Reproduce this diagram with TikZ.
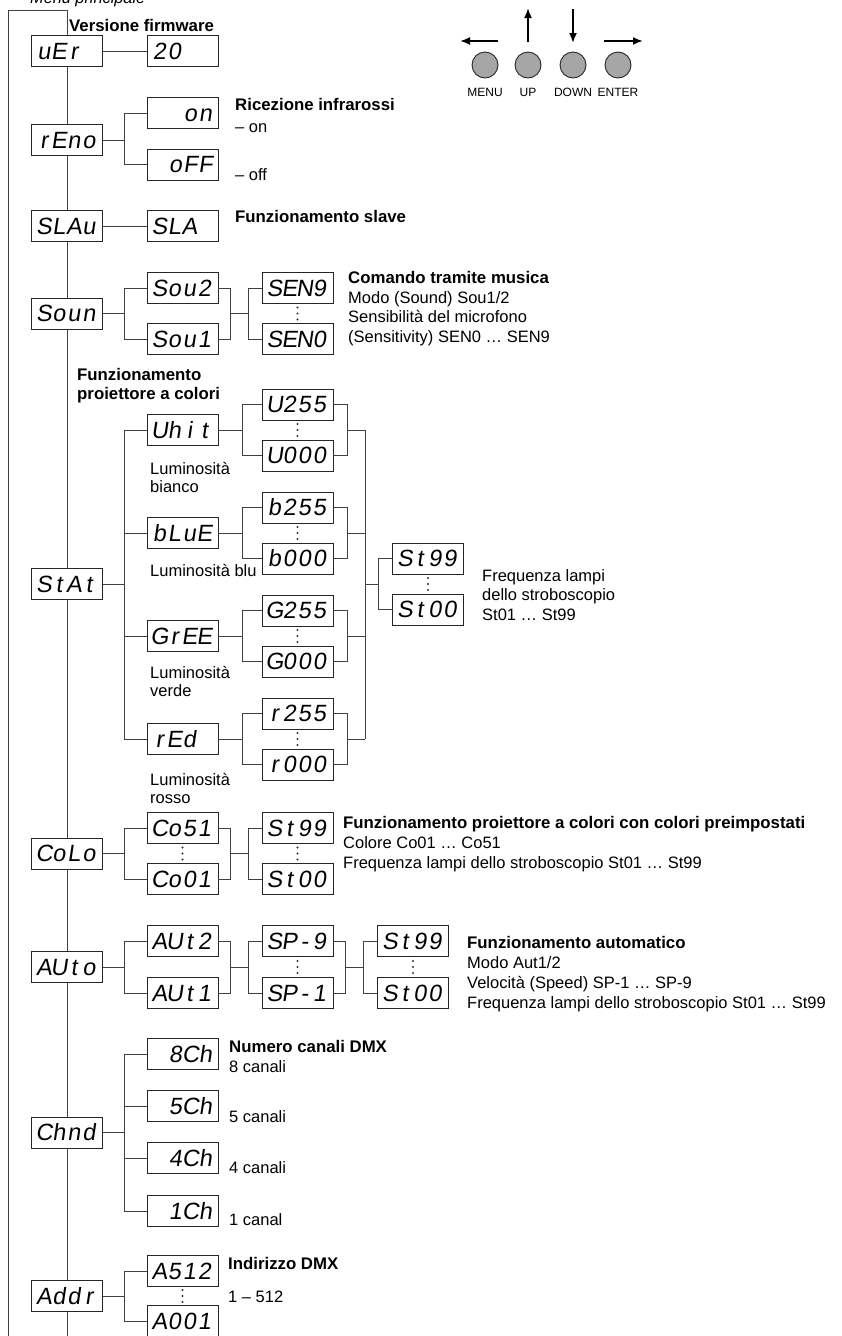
\documentclass[tikz,border=0pt]{standalone}
\usepackage{fontspec}
\setmainfont{Liberation Sans}
\newfontfamily\segfont{Liberation Sans}[FakeSlant=0.15]
\usetikzlibrary{arrows.meta}
\makeatletter
\newcommand\segtext[1]{\@tfor\seg@c:=#1\do{\makebox[15pt][c]{\seg@c}}}
\makeatother
\newcommand\vdts[2]{\foreach \dd in {-6,0,6}{\fill[black!80] (#1,{#2+\dd}) circle (1.1pt);}}
\begin{document}
\begin{tikzpicture}[x=1pt,y=-1pt,
 disp/.style={draw=black!85, line width=0.9pt, minimum width=71pt, minimum height=31pt, inner sep=0pt,
   font=\segfont\fontsize{23.5}{23.5}\selectfont, text width=61pt, align=left, text height=16.8pt, text depth=0pt},
 dispr/.style={disp, align=right},
 conn/.style={draw=black!75, line width=0.9pt},
 lbl/.style={anchor=base west, inner sep=0pt, font=\fontsize{16.5}{19.5}\selectfont},
 ttl/.style={anchor=base west, inner sep=0pt, font=\bfseries\fontsize{16.8}{19.5}\selectfont},
 btn/.style={circle, draw=black!85, fill=black!35, line width=0.9pt, minimum size=26pt, inner sep=0pt},
 btnlbl/.style={inner sep=0pt, font=\fontsize{12}{12}\selectfont},
 arr/.style={line width=1.8pt, -{Latex[length=10pt,width=8pt]}}
]
\useasboundingbox (0,0) rectangle (842,1336);

% ---------- main column ----------
\node[disp] (uEr)  at (67,51)    {\segtext{uEr}};
\node[disp] (rEno) at (67,140)   {\segtext{rEno}};
\node[disp] (SLAu) at (67,226)   {\segtext{SLAu}};
\node[disp] (Soun) at (67,313.5) {\segtext{Soun}};
\node[disp] (StAt) at (67,584)   {\segtext{StAt}};
\node[disp] (CoLo) at (67,853.5) {\segtext{CoLo}};
\node[disp] (AUto) at (67,967)   {\segtext{AUto}};
\node[disp] (Chnd) at (67,1132.5){\segtext{Chnd}};
\node[disp] (Addr) at (67,1296)  {\segtext{Addr}};

% ---------- second level ----------
\node[disp]  (v20)  at (182.5,51)    {\segtext{20}};
\node[dispr] (on)   at (182.5,113)   {\segtext{on}};
\node[dispr] (oFF)  at (182.5,164.5) {\segtext{oFF}};
\node[disp]  (SLA)  at (182.5,226)   {\segtext{SLA}};
\node[disp]  (Sou2) at (182.5,288)   {\segtext{Sou2}};
\node[disp]  (Sou1) at (182.5,339)   {\segtext{Sou1}};
\node[disp]  (Whit) at (182.5,430)   {\segtext{Uhit}};
\node[disp]  (bLuE) at (182.5,533)   {\segtext{bLuE}};
\node[disp]  (GrEE) at (182.5,636)   {\segtext{GrEE}};
\node[disp]  (rEd)  at (182.5,739)   {\segtext{rEd}};
\node[disp]  (Co51) at (182.5,828)   {\segtext{Co51}};
\node[disp]  (Co01) at (182.5,879)   {\segtext{Co01}};
\node[disp]  (AUt2) at (182.5,941)   {\segtext{AUt2}};
\node[disp]  (AUt1) at (182.5,993)   {\segtext{AUt1}};
\node[dispr] (c8)   at (182.5,1054)  {\segtext{8Ch}};
\node[dispr] (c5)   at (182.5,1106)  {\segtext{5Ch}};
\node[dispr] (c4)   at (182.5,1158)  {\segtext{4Ch}};
\node[dispr] (c1)   at (182.5,1211)  {\segtext{1Ch}};
\node[disp]  (A512) at (182.5,1271)  {\segtext{A512}};
\node[disp]  (A001) at (182.5,1321)  {\segtext{A001}};

% ---------- third level ----------
\node[disp] (SEN9) at (297.5,288)   {\segtext{SEN9}};
\node[disp] (SEN0) at (297.5,339)   {\segtext{SEN0}};
\node[disp] (W255) at (297.5,404.5) {\segtext{U255}};
\node[disp] (W000) at (297.5,455.5) {\segtext{U000}};
\node[disp] (b255) at (297.5,507.5) {\segtext{b255}};
\node[disp] (b000) at (297.5,558.5) {\segtext{b000}};
\node[disp] (G255) at (297.5,610.5) {\segtext{G255}};
\node[disp] (G000) at (297.5,661.5) {\segtext{G000}};
\node[disp] (r255) at (297.5,713.5) {\segtext{r255}};
\node[disp] (r000) at (297.5,764.5) {\segtext{r000}};
\node[disp] (CSt99) at (297.5,828)  {\segtext{St99}};
\node[disp] (CSt00) at (297.5,879)  {\segtext{St00}};
\node[disp] (SP9)  at (297.5,941)   {\segtext{SP-9}};
\node[disp] (SP1)  at (297.5,993)   {\segtext{SP-1}};
\node[disp] (SSt99) at (428,558.5)  {\segtext{St99}};
\node[disp] (SSt00) at (428,609.5)  {\segtext{St00}};
\node[disp] (ASt99) at (413,941)    {\segtext{St99}};
\node[disp] (ASt00) at (413,993)    {\segtext{St00}};

% ---------- main spine ----------
\coordinate (tl) at (8,10);
\coordinate (tr) at (67,10);
\coordinate (bl) at (8,1336);
\coordinate (bm) at (67,1336);
\draw[conn] (bl) -- (tl) -- (tr) -- (uEr.north);
\draw[conn] (uEr.south) -- (rEno.north);
\draw[conn] (rEno.south) -- (SLAu.north);
\draw[conn] (SLAu.south) -- (Soun.north);
\draw[conn] (Soun.south) -- (StAt.north);
\draw[conn] (StAt.south) -- (CoLo.north);
\draw[conn] (CoLo.south) -- (AUto.north);
\draw[conn] (AUto.south) -- (Chnd.north);
\draw[conn] (Chnd.south) -- (Addr.north);
\draw[conn] (Addr.south) -- (bm);

% uEr, SLAu
\draw[conn] (uEr) -- (v20);
\draw[conn] (SLAu) -- (SLA);

% rEno
\coordinate (kRe) at (124,140);
\draw[conn] (rEno.east) -- (kRe);
\draw[conn] (on.west) -| (kRe);
\draw[conn] (oFF.west) -| (kRe);

% Soun
\coordinate (kSo) at (124,313.5);
\coordinate (mSo) at (230,313.5);
\coordinate (kSe) at (248,313.5);
\draw[conn] (Soun.east) -- (kSo);
\draw[conn] (Sou2.west) -| (kSo);
\draw[conn] (Sou1.west) -| (kSo);
\draw[conn] (Sou2.east) -| (mSo);
\draw[conn] (Sou1.east) -| (mSo);
\draw[conn] (mSo) -- (kSe);
\draw[conn] (SEN9.west) -| (kSe);
\draw[conn] (SEN0.west) -| (kSe);
\vdts{297.5}{313.5}

% StAt
\coordinate (kSt) at (124,584);
\draw[conn] (StAt.east) -- (kSt);
\draw[conn] (Whit.west) -| (kSt);
\draw[conn] (bLuE.west) -| (kSt);
\draw[conn] (GrEE.west) -| (kSt);
\draw[conn] (rEd.west) -| (kSt);
% white
\coordinate (kW) at (242,430); \coordinate (mW) at (347,430); \coordinate (cW) at (365,430);
\draw[conn] (Whit.east) -- (kW);
\draw[conn] (W255.west) -| (kW);
\draw[conn] (W000.west) -| (kW);
\draw[conn] (W255.east) -| (mW);
\draw[conn] (W000.east) -| (mW);
\draw[conn] (mW) -- (cW);
\vdts{297.5}{430}
% blue
\coordinate (kb) at (242,533); \coordinate (mb) at (347,533); \coordinate (cb) at (365,533);
\draw[conn] (bLuE.east) -- (kb);
\draw[conn] (b255.west) -| (kb);
\draw[conn] (b000.west) -| (kb);
\draw[conn] (b255.east) -| (mb);
\draw[conn] (b000.east) -| (mb);
\draw[conn] (mb) -- (cb);
\vdts{297.5}{533}
% green
\coordinate (kG) at (242,636); \coordinate (mG) at (347,636); \coordinate (cG) at (365,636);
\draw[conn] (GrEE.east) -- (kG);
\draw[conn] (G255.west) -| (kG);
\draw[conn] (G000.west) -| (kG);
\draw[conn] (G255.east) -| (mG);
\draw[conn] (G000.east) -| (mG);
\draw[conn] (mG) -- (cG);
\vdts{297.5}{636}
% red
\coordinate (kr) at (242,739); \coordinate (mr) at (347,739); \coordinate (cr) at (365,739);
\draw[conn] (rEd.east) -- (kr);
\draw[conn] (r255.west) -| (kr);
\draw[conn] (r000.west) -| (kr);
\draw[conn] (r255.east) -| (mr);
\draw[conn] (r000.east) -| (mr);
\draw[conn] (mr) -- (cr);
\vdts{297.5}{739}
% collector
\coordinate (cS) at (365,584); \coordinate (kS) at (378,584);
\draw[conn] (cW) -- (cr);
\draw[conn] (cS) -- (kS);
\draw[conn] (SSt99.west) -| (kS);
\draw[conn] (SSt00.west) -| (kS);
\vdts{428}{584}

% CoLo
\coordinate (kCo) at (124,853.5); \coordinate (mCo) at (230,853.5); \coordinate (kCs) at (248,853.5);
\draw[conn] (CoLo.east) -- (kCo);
\draw[conn] (Co51.west) -| (kCo);
\draw[conn] (Co01.west) -| (kCo);
\draw[conn] (Co51.east) -| (mCo);
\draw[conn] (Co01.east) -| (mCo);
\draw[conn] (mCo) -- (kCs);
\draw[conn] (CSt99.west) -| (kCs);
\draw[conn] (CSt00.west) -| (kCs);
\vdts{182.5}{853.5}
\vdts{297.5}{853.5}

% AUto
\coordinate (kAu) at (124,967); \coordinate (mAu) at (230,967); \coordinate (kSp) at (248,967);
\coordinate (mSp) at (345,967); \coordinate (kAs) at (363,967);
\draw[conn] (AUto.east) -- (kAu);
\draw[conn] (AUt2.west) -| (kAu);
\draw[conn] (AUt1.west) -| (kAu);
\draw[conn] (AUt2.east) -| (mAu);
\draw[conn] (AUt1.east) -| (mAu);
\draw[conn] (mAu) -- (kSp);
\draw[conn] (SP9.west) -| (kSp);
\draw[conn] (SP1.west) -| (kSp);
\draw[conn] (SP9.east) -| (mSp);
\draw[conn] (SP1.east) -| (mSp);
\draw[conn] (mSp) -- (kAs);
\draw[conn] (ASt99.west) -| (kAs);
\draw[conn] (ASt00.west) -| (kAs);
\vdts{297.5}{967}
\vdts{413}{967}

% Chnd
\coordinate (kCh) at (124,1132.5);
\draw[conn] (Chnd.east) -- (kCh);
\draw[conn] (c8.west) -| (kCh);
\draw[conn] (c5.west) -| (kCh);
\draw[conn] (c4.west) -| (kCh);
\draw[conn] (c1.west) -| (kCh);

% Addr
\coordinate (kAd) at (124,1296);
\draw[conn] (Addr.east) -- (kAd);
\draw[conn] (A512.west) -| (kAd);
\draw[conn] (A001.west) -| (kAd);
\vdts{182.5}{1296}

% ---------- labels ----------
\node[lbl, font=\itshape\fontsize{16.3}{19.5}\selectfont] (tMenu) at (30,3) {Menu principale};
\node[ttl] (tVer) at (69,31) {Versione firmware};
\node[ttl] (tRic) at (235,110) {Ricezione infrarossi};
\node[lbl] (tOn)  at (235,132) {– on};
\node[lbl] (tOff) at (235,180) {– off};
\node[ttl] (tSla) at (235,222) {Funzionamento slave};
\node[ttl] (tCom) at (348,283) {Comando tramite musica};
\node[lbl] (tCom1) at (348,303) {Modo (Sound) Sou1/2};
\node[lbl] (tCom2) at (348,322.5) {Sensibilità del microfono};
\node[lbl] (tCom3) at (348,342) {(Sensitivity) SEN0 … SEN9};
\node[ttl] (tFp1) at (77,380) {Funzionamento};
\node[ttl] (tFp2) at (77,399) {proiettore a colori};
\node[lbl] (tLw1) at (150,474) {Luminosità};
\node[lbl] (tLw2) at (150,492) {bianco};
\node[lbl] (tLb)  at (150,576) {Luminosità blu};
\node[lbl] (tLg1) at (150,678) {Luminosità};
\node[lbl] (tLg2) at (150,696) {verde};
\node[lbl] (tLr1) at (150,785) {Luminosità};
\node[lbl] (tLr2) at (150,803) {rosso};
\node[lbl] (tSt1) at (482,581) {Frequenza lampi};
\node[lbl] (tSt2) at (482,600.5) {dello stroboscopio};
\node[lbl] (tSt3) at (482,620) {St01 … St99};
\node[ttl] (tCo)  at (343,828) {Funzionamento proiettore a colori con colori preimpostati};
\node[lbl] (tCo1) at (343,848) {Colore Co01 … Co51};
\node[lbl] (tCo2) at (343,868) {Frequenza lampi dello stroboscopio St01 … St99};
\node[ttl] (tAu)  at (467,948) {Funzionamento automatico};
\node[lbl] (tAu1) at (467,968.5) {Modo Aut1/2};
\node[lbl] (tAu2) at (467,988.5) {Velocità (Speed) SP-1 … SP-9};
\node[lbl] (tAu3) at (467,1008.5) {Frequenza lampi dello stroboscopio St01 … St99};
\node[ttl] (tCh)  at (229,1052) {Numero canali DMX};
\node[lbl] (tCh8) at (229,1072) {8 canali};
\node[lbl] (tCh5) at (229,1122) {5 canali};
\node[lbl] (tCh4) at (229,1173) {4 canali};
\node[lbl] (tCh1) at (229,1225) {1 canal};
\node[ttl] (tAd)  at (228,1269) {Indirizzo DMX};
\node[lbl] (tAd1) at (228,1302) {1 – 512};

% ---------- buttons ----------
\node[btn] (bM) at (485,65) {};
\node[btn] (bU) at (528,65) {};
\node[btn] (bD) at (573,65) {};
\node[btn] (bE) at (618,65) {};
\node[btnlbl] (lM) at (485,92) {MENU};
\node[btnlbl] (lU) at (528,92) {UP};
\node[btnlbl] (lD) at (573,92) {DOWN};
\node[btnlbl] (lE) at (618,92) {ENTER};
\coordinate (aM1) at (498,41); \coordinate (aM2) at (460,41);
\coordinate (aU1) at (528,42); \coordinate (aU2) at (528,8);
\coordinate (aD1) at (573,9);  \coordinate (aD2) at (573,43);
\coordinate (aE1) at (604,41); \coordinate (aE2) at (643,41);
\draw[arr] (aM1) -- (aM2);
\draw[arr] (aU1) -- (aU2);
\draw[arr] (aD1) -- (aD2);
\draw[arr] (aE1) -- (aE2);
\end{tikzpicture}
\end{document}
